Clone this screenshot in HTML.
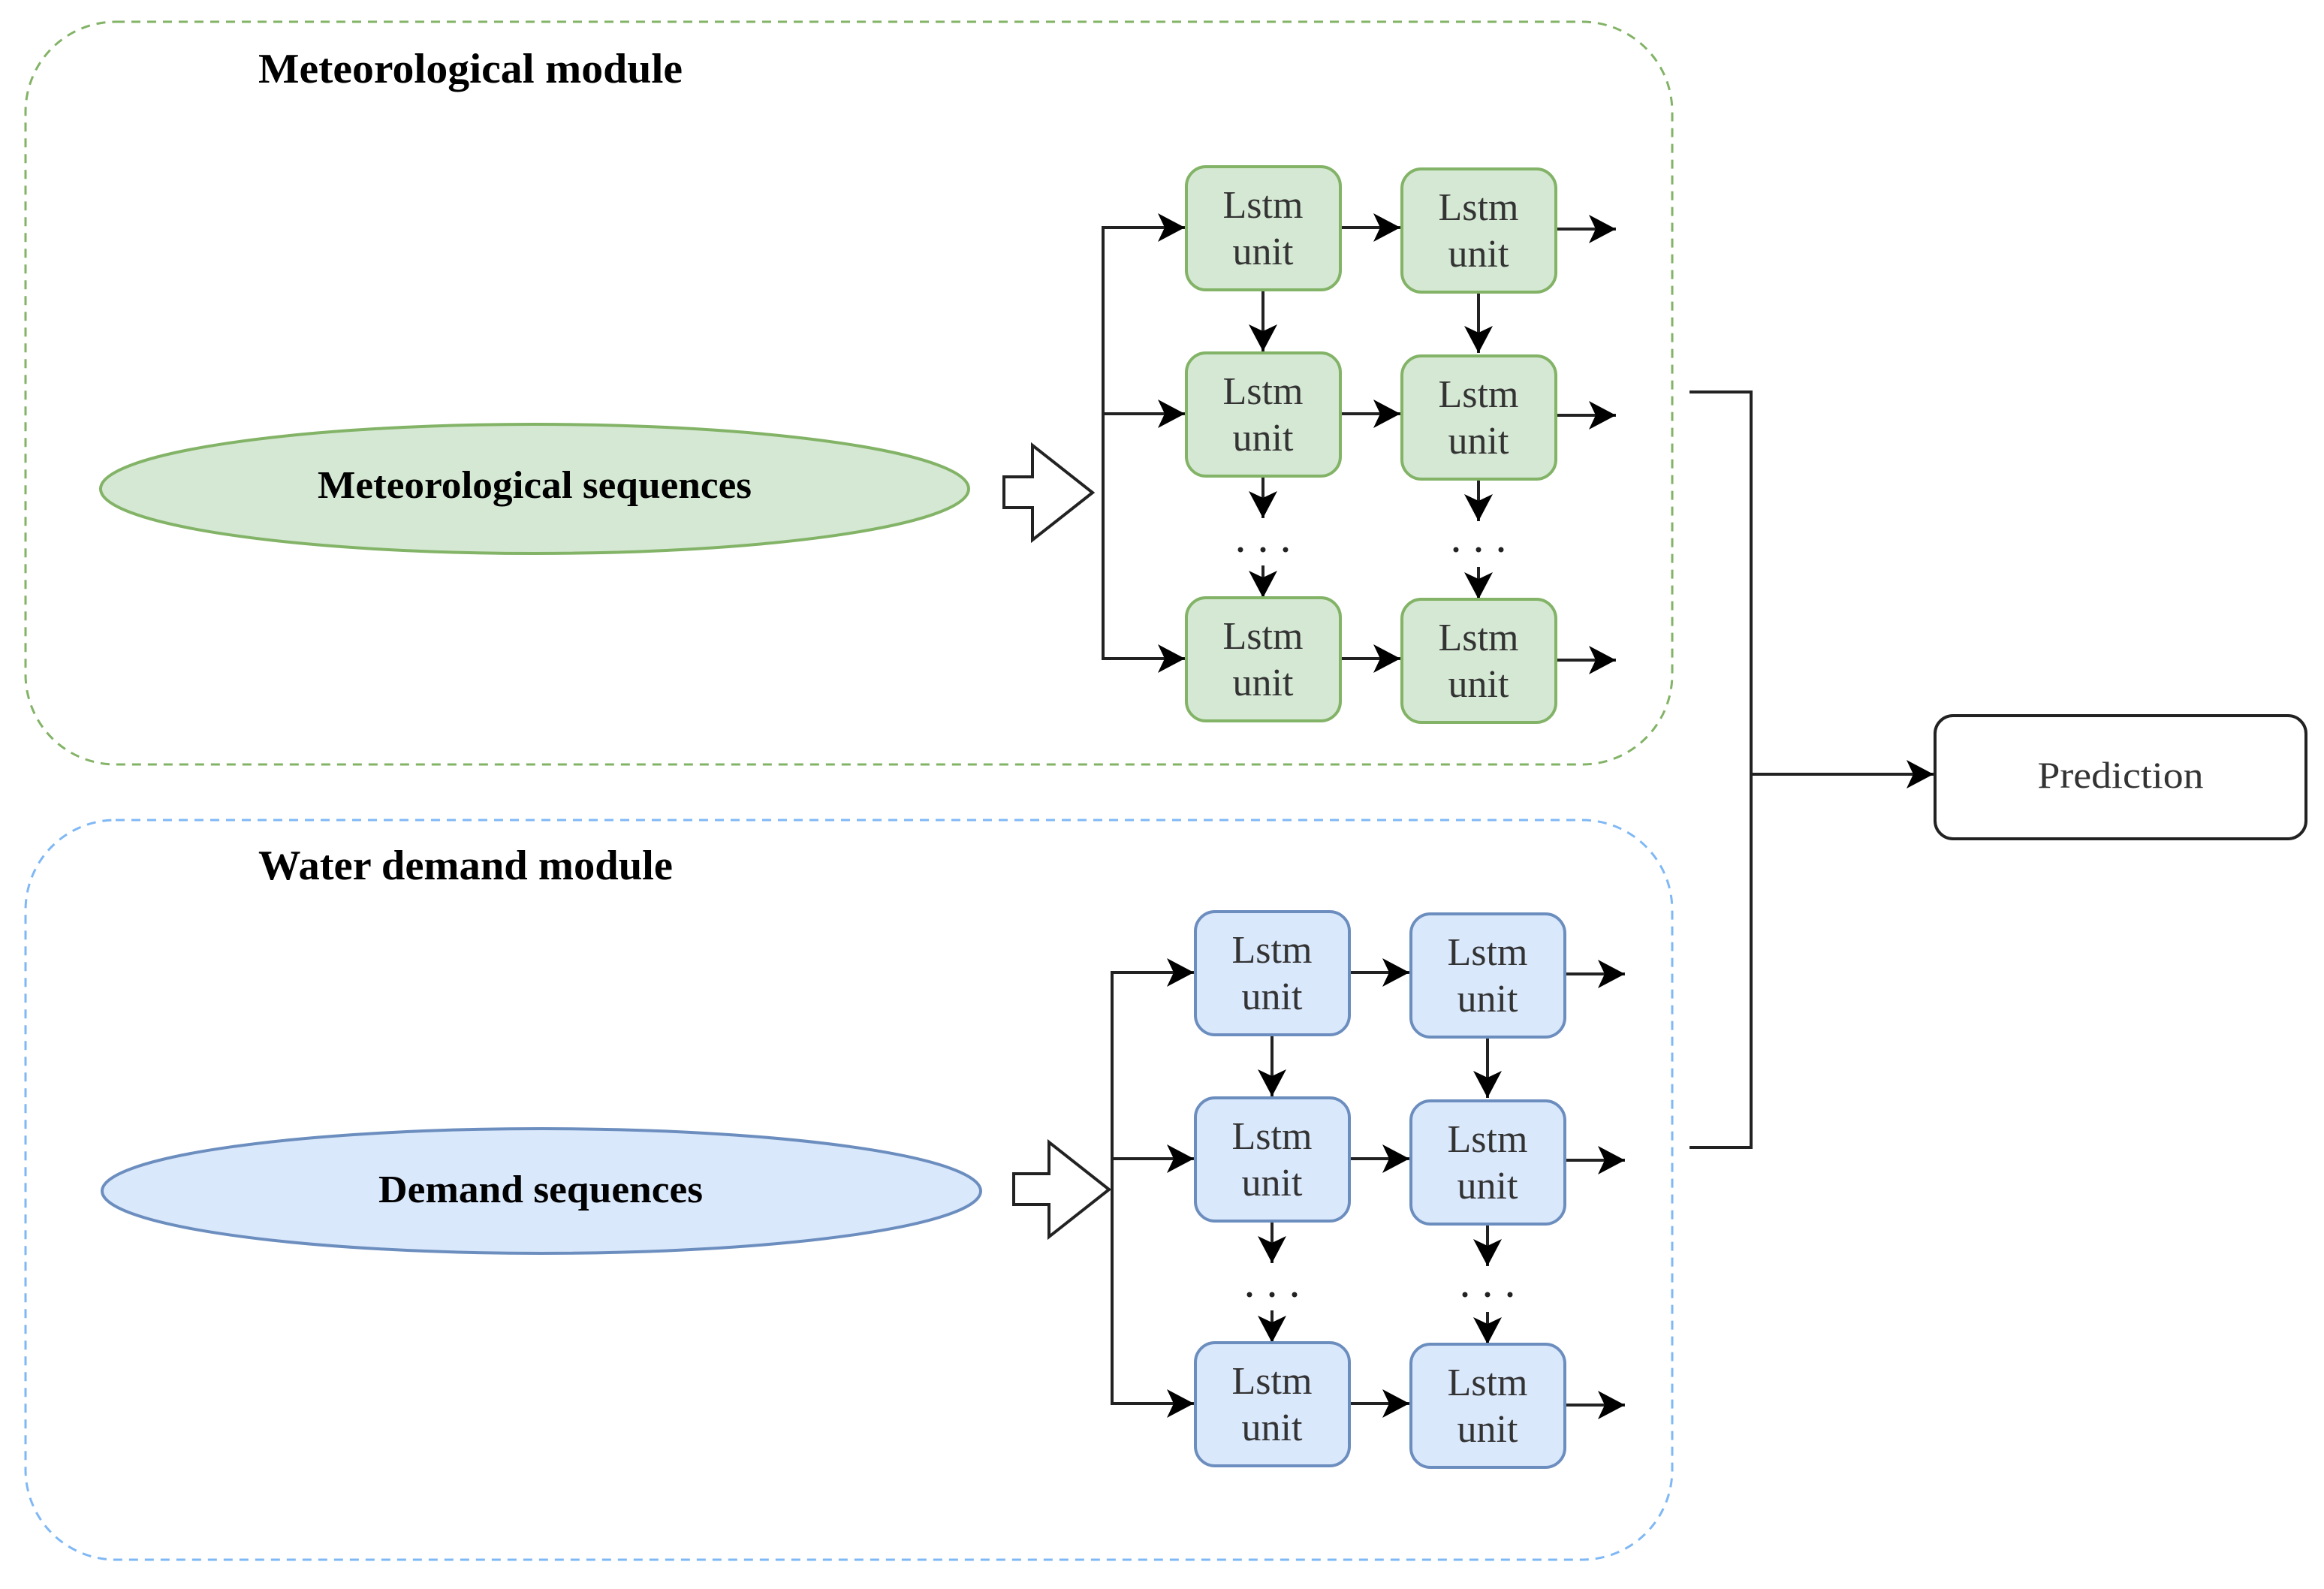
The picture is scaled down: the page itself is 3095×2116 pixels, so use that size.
<!DOCTYPE html>
<html><head><meta charset="utf-8"><style>html,body{margin:0;padding:0;background:#fff}svg{display:block}</style></head>
<body>
<svg width="3095" height="2116" viewBox="0 0 3095 2116" xmlns="http://www.w3.org/2000/svg" font-family="'Liberation Serif', serif">
<defs>
<marker id="a" markerUnits="userSpaceOnUse" markerWidth="42" markerHeight="42" refX="36" refY="19" orient="auto">
<path d="M0,0 L36,19 L0,38 L9,19 Z" fill="#000"/>
</marker>
<g id="grid">
  <path d="M1580,303 H1469 V877 H1580" fill="none" stroke="#222" stroke-width="4"/>
  <line x1="1469" y1="551" x2="1578" y2="551" stroke="#222" stroke-width="4" marker-end="url(#a)"/>
  <line x1="1469" y1="303" x2="1578" y2="303" stroke="#222" stroke-width="4" marker-end="url(#a)"/>
  <line x1="1469" y1="877" x2="1578" y2="877" stroke="#222" stroke-width="4" marker-end="url(#a)"/>
  <line x1="1785" y1="303" x2="1865" y2="303" stroke="#222" stroke-width="4" marker-end="url(#a)"/>
  <line x1="1785" y1="551" x2="1865" y2="551" stroke="#222" stroke-width="4" marker-end="url(#a)"/>
  <line x1="1785" y1="877" x2="1865" y2="877" stroke="#222" stroke-width="4" marker-end="url(#a)"/>
  <line x1="2072" y1="305" x2="2152" y2="305" stroke="#222" stroke-width="4" marker-end="url(#a)"/>
  <line x1="2072" y1="553" x2="2152" y2="553" stroke="#222" stroke-width="4" marker-end="url(#a)"/>
  <line x1="2072" y1="879" x2="2152" y2="879" stroke="#222" stroke-width="4" marker-end="url(#a)"/>
  <line x1="1682" y1="386" x2="1682" y2="468" stroke="#222" stroke-width="4" marker-end="url(#a)"/>
  <line x1="1969" y1="390" x2="1969" y2="470" stroke="#222" stroke-width="4" marker-end="url(#a)"/>
  <line x1="1682" y1="634" x2="1682" y2="690" stroke="#222" stroke-width="4" marker-end="url(#a)"/>
  <line x1="1969" y1="638" x2="1969" y2="694" stroke="#222" stroke-width="4" marker-end="url(#a)"/>
  <line x1="1682" y1="753" x2="1682" y2="796" stroke="#222" stroke-width="4" marker-end="url(#a)"/>
  <line x1="1969" y1="755" x2="1969" y2="798" stroke="#222" stroke-width="4" marker-end="url(#a)"/>
  <g fill="#222"><circle cx="1652" cy="732" r="3.5"/><circle cx="1682" cy="732" r="3.5"/><circle cx="1712" cy="732" r="3.5"/>
  <circle cx="1939" cy="732" r="3.5"/><circle cx="1969" cy="732" r="3.5"/><circle cx="1999" cy="732" r="3.5"/></g>
</g>
<g id="boxes">
  <rect x="1580" y="222" width="205" height="164" rx="26"/>
  <rect x="1867" y="225" width="205" height="164" rx="26"/>
  <rect x="1580" y="470" width="205" height="164" rx="26"/>
  <rect x="1867" y="474" width="205" height="164" rx="26"/>
  <rect x="1580" y="796" width="205" height="164" rx="26"/>
  <rect x="1867" y="798" width="205" height="164" rx="26"/>
</g>
<g id="labels" font-size="52" fill="#333" text-anchor="middle">
  <text x="1682" y="290">Lstm</text><text x="1682" y="352">unit</text>
  <text x="1969" y="293">Lstm</text><text x="1969" y="355">unit</text>
  <text x="1682" y="538">Lstm</text><text x="1682" y="600">unit</text>
  <text x="1969" y="542">Lstm</text><text x="1969" y="604">unit</text>
  <text x="1682" y="864">Lstm</text><text x="1682" y="926">unit</text>
  <text x="1969" y="866">Lstm</text><text x="1969" y="928">unit</text>
</g>
</defs>

<rect x="34" y="29" width="2193" height="989" rx="120" fill="none" stroke="#82b366" stroke-width="3" stroke-dasharray="12,9"/>
<rect x="34" y="1092" width="2193" height="985" rx="120" fill="none" stroke="#7fb8f5" stroke-width="3" stroke-dasharray="12,9"/>

<text x="344" y="110" font-size="56" font-weight="bold" textLength="565" lengthAdjust="spacingAndGlyphs">Meteorological module</text>
<text x="344" y="1171" font-size="56" font-weight="bold" textLength="552" lengthAdjust="spacingAndGlyphs">Water demand module</text>

<ellipse cx="712" cy="651" rx="578" ry="86" fill="#d5e8d4" stroke="#82b366" stroke-width="4"/>
<text x="423" y="663" font-size="52" font-weight="bold" textLength="578" lengthAdjust="spacingAndGlyphs">Meteorological sequences</text>
<ellipse cx="721" cy="1586" rx="585" ry="83" fill="#dae8fc" stroke="#6c8ebf" stroke-width="4"/>
<text x="504" y="1601" font-size="52" font-weight="bold" textLength="432" lengthAdjust="spacingAndGlyphs">Demand sequences</text>

<path d="M1337,635 H1375 V593 L1455,656 L1375,719 V676 H1337 Z" fill="#fff" stroke="#222" stroke-width="4"/>
<path d="M1350,1563 H1397 V1521 L1477,1584 L1397,1647 V1604 H1350 Z" fill="#fff" stroke="#222" stroke-width="4"/>

<use href="#grid"/>
<use href="#boxes" fill="#d5e8d4" stroke="#82b366" stroke-width="4"/>
<use href="#labels"/>
<g transform="translate(12,992)">
<use href="#grid"/>
<use href="#boxes" fill="#dae8fc" stroke="#6c8ebf" stroke-width="4"/>
<use href="#labels"/>
</g>

<path d="M2250,522 H2332 V1528 H2250" fill="none" stroke="#222" stroke-width="4"/>
<line x1="2332" y1="1031" x2="2575" y2="1031" stroke="#222" stroke-width="4" marker-end="url(#a)"/>
<rect x="2577" y="953" width="494" height="164" rx="24" fill="#fff" stroke="#222" stroke-width="4"/>
<text x="2824" y="1049" font-size="50" fill="#333" text-anchor="middle" textLength="221" lengthAdjust="spacingAndGlyphs">Prediction</text>
</svg>
</body></html>
